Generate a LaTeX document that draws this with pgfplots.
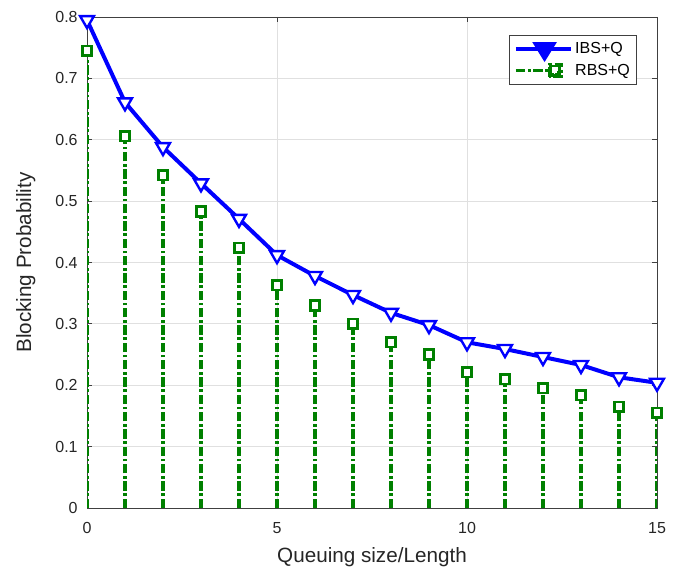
\documentclass[border=0pt]{standalone}
\usepackage{pgfplots}
\pgfplotsset{compat=1.18}
\usepackage{fontspec}
\setmainfont{Liberation Sans}
\definecolor{mblue}{RGB}{0,0,255}
\definecolor{mgreen}{RGB}{0,128,0}
\begin{document}
\begin{tikzpicture}
\begin{axis}[
  at={(0,0)}, anchor=south west,
  scale only axis,
  width=427.5pt, height=368.25pt,
  xmin=0, xmax=15, ymin=0, ymax=0.8,
  xtick={0,5,10,15},
  ytick={0,0.1,0.2,0.3,0.4,0.5,0.6,0.7,0.8},
  yticklabel style={/pgf/number format/fixed, /pgf/number format/precision=1, xshift=-3.5pt},
  xticklabel style={yshift=-7pt},
  /pgf/number format/assume math mode=true,
  tick align=inside,
  tick pos=both,
  major tick length=4pt,
  grid=major,
  major grid style={draw=black!12, line width=0.7pt},
  axis line style={draw=black!75, line width=0.7pt},
  tick style={draw=black!75, line width=0.7pt},
  ticklabel style={font=\fontsize{12pt}{14pt}\selectfont, text=black!85},
  xlabel={Queuing size/Length},
  ylabel={Blocking Probability},
  every axis x label/.style={at={(axis description cs:0.5,0)}, yshift=-37pt, anchor=center,
    font=\fontsize{15.5pt}{18pt}\selectfont, text=black!85},
  every axis y label/.style={at={(axis description cs:0,0.5)}, xshift=-46pt, rotate=90, anchor=center,
    font=\fontsize{15.5pt}{18pt}\selectfont, text=black!85},
  legend style={at={(0.965,0.963)}, anchor=north east, draw=black!75, line width=0.7pt,
    font=\fontsize{12pt}{14pt}\selectfont, row sep=1pt, inner sep=3pt},
  legend cell align=left,
]
\addplot[color=mblue, line width=3pt, mark=triangle*, mark options={rotate=180, fill=white, line width=1.8pt}, mark size=6pt,
  legend image code/.code={
    \draw[mblue, line width=3pt] (0pt,0pt) -- (41pt,0pt);
    \fill[mblue] (15pt,3.5pt) -- (28pt,3.5pt) -- (21.5pt,-7pt) -- cycle;
  }]
coordinates {(0,0.795) (1,0.661) (2,0.588) (3,0.529) (4,0.471) (5,0.412) (6,0.378) (7,0.347) (8,0.318) (9,0.298) (10,0.270) (11,0.259) (12,0.246) (13,0.233) (14,0.213) (15,0.204)};
\addlegendentry{IBS+Q}
\addplot[ycomb, color=mgreen, line width=2.3pt, dash pattern=on 7pt off 2pt on 2pt off 2pt, mark=square*, mark options={solid, fill=white, line width=2pt}, mark size=3.6pt,
  legend image code/.code={
    \draw[mgreen, line width=2.3pt, dash pattern=on 7pt off 2pt on 2pt off 2pt] (0pt,0pt) -- (26pt,0pt);
    \fill[mgreen] (25pt,-4.5pt) rectangle (34pt,4.5pt);
    \fill[white] (28.5pt,-1.5pt) rectangle (30.5pt,1.5pt);
  }]
coordinates {(0,0.745) (1,0.606) (2,0.542) (3,0.483) (4,0.424) (5,0.363) (6,0.330) (7,0.300) (8,0.270) (9,0.250) (10,0.221) (11,0.210) (12,0.195) (13,0.184) (14,0.165) (15,0.155)};
\addlegendentry{RBS+Q}
\end{axis}
\pgfresetboundingbox
\path (-65.25pt,-46.5pt) rectangle (444.75pt,381pt);
\end{tikzpicture}
\end{document}
